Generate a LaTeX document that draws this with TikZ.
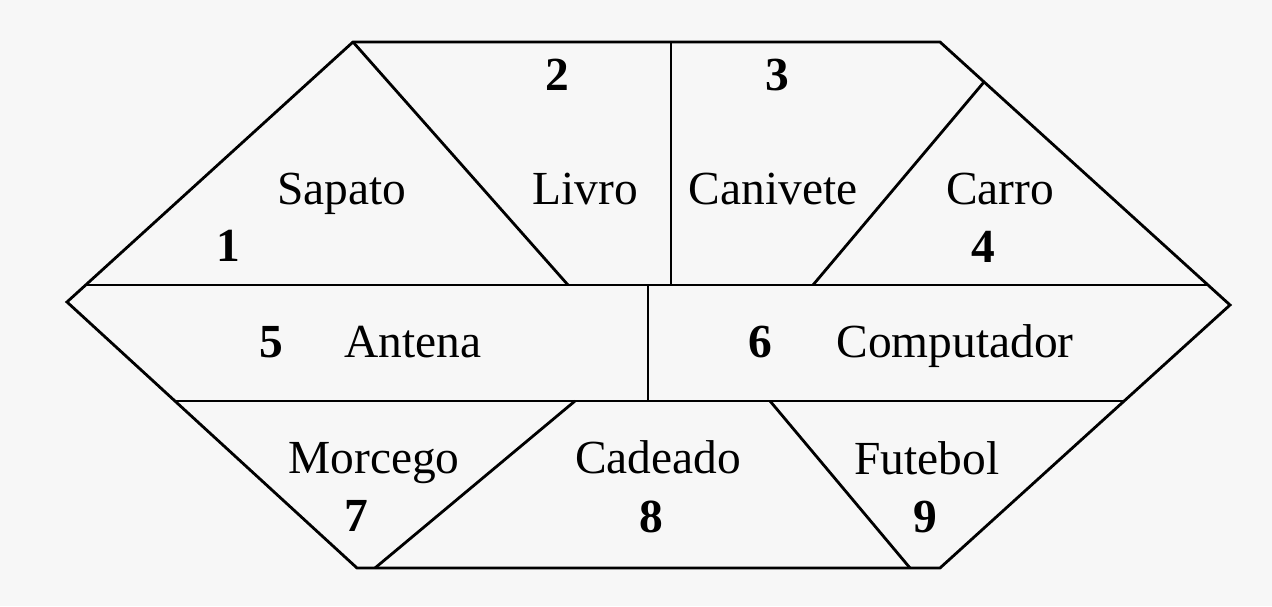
\documentclass[tikz,border=0pt]{standalone}
\usepackage{fontspec}
\setmainfont{Liberation Serif}
\usepackage{tikz}

\begin{document}
\begin{tikzpicture}[line width=1.6pt, line join=miter,
    word/.style={anchor=base, font=\fontsize{27}{30}\selectfont},
    num/.style={anchor=base, font=\fontsize{27}{30}\selectfont\bfseries}]
  \fill[black!3] (0,0) rectangle (25.44,12.12);
  \useasboundingbox (0,0) rectangle (25.44,12.12);
  % outer hexagon
  \coordinate (tl) at (7.06,11.28);
  \coordinate (tr) at (18.8,11.28);
  \coordinate (r) at (24.6,6.02);
  \coordinate (br) at (18.8,0.76);
  \coordinate (bl) at (7.14,0.76);
  \coordinate (l) at (1.34,6.08);
  \draw (tl) -- (tr) -- (r) -- (br) -- (bl) -- (l) -- cycle;
  % cuts
  \draw (1.71,6.42) -- (24.16,6.42);
  \draw (3.50,4.1) -- (22.48,4.1);
  \draw (tl) -- (11.36,6.42);
  \draw (13.42,11.28) -- (13.42,6.42);
  \draw (19.68,10.48) -- (16.26,6.42);
  \draw (12.96,6.42) -- (12.96,4.1);
  \draw (11.5,4.1) -- (7.5,0.76);
  \draw (15.4,4.1) -- (18.2,0.76);
  % pieces
  \node[num] (n1) at (4.56,6.88) {1};
  \node[word] (sapato) at (6.84,8.02) {Sapato};
  \node[num] (n2) at (11.14,10.3) {2};
  \node[word] (livro) at (11.7,8.02) {Livro};
  \node[num] (n3) at (15.54,10.3) {3};
  \node[word] (canivete) at (15.46,8.02) {Canivete};
  \node[word] (carro) at (20.0,8.02) {Carro};
  \node[num] (n4) at (19.66,6.86) {4};
  \node[num] (n5) at (5.42,4.98) {5};
  \node[word] (antena) at (8.26,4.98) {Antena};
  \node[num] (n6) at (15.2,4.97) {6};
  \node[word] (computador) at (19.1,4.97) {Computador};
  \node[word] (morcego) at (7.48,2.66) {Morcego};
  \node[num] (n7) at (7.12,1.5) {7};
  \node[word] (cadeado) at (13.16,2.66) {Cadeado};
  \node[num] (n8) at (13.02,1.48) {8};
  \node[word] (futebol) at (18.54,2.63) {Futebol};
  \node[num] (n9) at (18.5,1.48) {9};
\end{tikzpicture}
\end{document}
